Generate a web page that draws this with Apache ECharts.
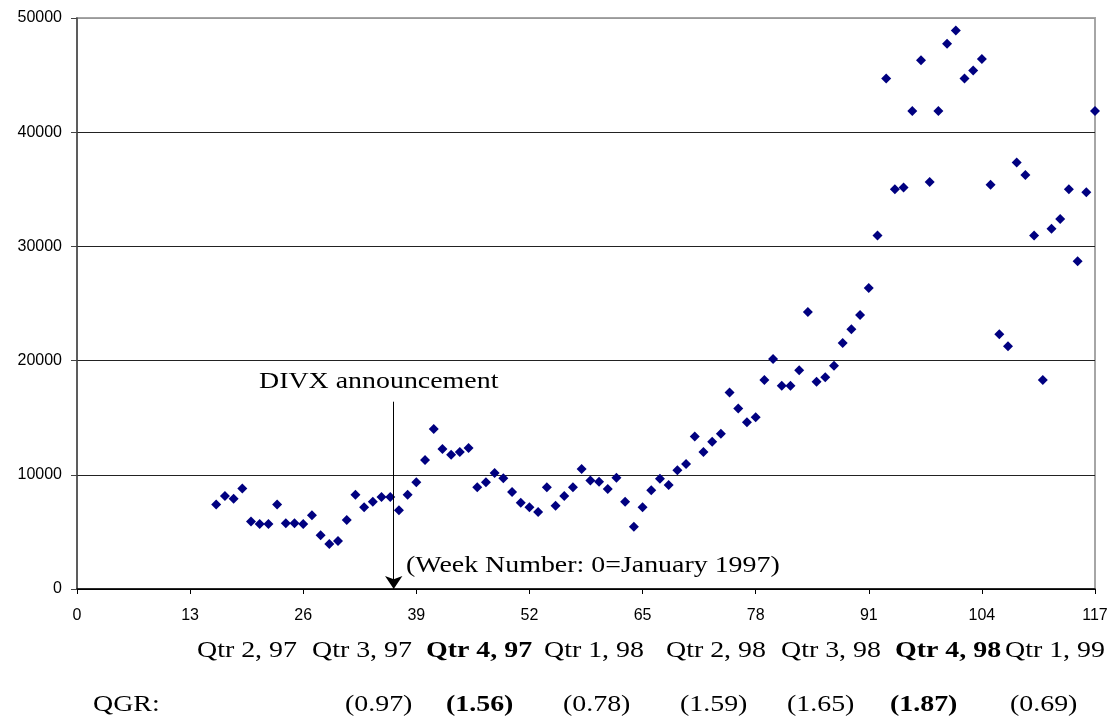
<!DOCTYPE html>
<html>
<head>
<meta charset="utf-8">
<script src="https://cdn.jsdelivr.net/npm/echarts@6/dist/echarts.min.js"></script>
<style>
html,body{margin:0;padding:0;background:#fff;}
#chart{width:1119px;height:722px;}
</style>
</head>
<body>
<div id="chart"></div>
<script>
// Week numbers (0 = January 1997)
const weeks = [16,17,18,19,20,21,22,23,24,25,26,27,28,29,30,31,32,33,34,35,36,37,38,39,40,41,42,43,44,45,46,47,48,49,50,51,52,53,54,55,56,57,58,59,60,61,62,63,64,65,66,67,68,69,70,71,72,73,74,75,76,77,78,79,80,81,82,83,84,85,86,87,88,89,90,91,92,93,94,95,96,97,98,99,100,101,102,103,104,105,106,107,108,109,110,111,112,113,114,115,116,117];
// Weekly values
const sales = [7400,8150,7900,8800,5900,5700,5700,7400,5750,5750,5700,6450,4700,3950,4200,6050,8250,7150,7650,8050,8050,6900,8250,9350,11300,14000,12250,11750,12000,12350,8900,9350,10150,9700,8500,7550,7150,6750,8900,7300,8150,8900,10500,9500,9400,8750,9750,7650,5450,7150,8650,9650,9100,10400,10950,13350,12000,12900,13600,17200,15800,14600,15050,18300,20150,17800,17800,19150,24250,18150,18550,19550,21550,22750,24000,26350,30950,44700,35000,35150,41850,46300,35650,41850,47750,48900,44700,45400,46400,35400,22300,21250,37350,36250,30950,18300,31550,32400,35000,28700,34750,41850];
const quarterLabels = ['Qtr 2, 97','Qtr 3, 97','Qtr 4, 97','Qtr 1, 98','Qtr 2, 98','Qtr 3, 98','Qtr 4, 98','Qtr 1, 99'];
const quarterBold = [false,false,true,false,false,false,true,false];
const qgrLabels = ['(0.97)','(1.56)','(0.78)','(1.59)','(1.65)','(1.87)','(0.69)'];
const qgrBold = [false,true,false,false,false,true,false];
const divxWeek = 36.4;
const divxArrowTop = 16400;

const points = weeks.map((w,i)=>[w, sales[i]]);

// layout (pixels) for the text rows
const quarterX = [197,312,426,544,666,781,895,1005];
const qgrX = [345,446,563,680,787,890,1010];
const SX = 1.24;
const SERIF = '"Liberation Serif","Times New Roman",serif';

function txt(x,y,text,bold){
  return {type:'text', x:x, y:y, scaleX:SX, scaleY:1, silent:true,
    style:{text:text, fontFamily:SERIF, fontSize:22.5, fontWeight:bold?'bold':'normal',
      fill:'#000', align:'left', verticalAlign:'middle'}};
}
const graphics = [];
graphics.push(txt(259,382,'DIVX announcement',false));
graphics.push(txt(406,566,'(Week Number: 0=January 1997)',false));
quarterLabels.forEach((t,i)=>graphics.push(txt(quarterX[i],651,t,quarterBold[i])));
graphics.push(txt(93,705,'QGR:',false));
qgrLabels.forEach((t,i)=>graphics.push(txt(qgrX[i],705,t,qgrBold[i])));

const chart = echarts.init(document.getElementById('chart'), null, {renderer:'canvas'});
chart.setOption({
  animation:false,
  backgroundColor:'#fff',
  grid:{left:77, right:24, top:18, height:571, show:true, borderColor:'#a6a6a6', borderWidth:2, backgroundColor:'transparent'},
  xAxis:{type:'value', min:0, max:117, interval:13,
    axisLine:{show:true, onZero:false, lineStyle:{color:'#000', width:1.5}},
    axisTick:{show:true, inside:false, length:5, lineStyle:{color:'#000'}},
    axisLabel:{color:'#000', fontFamily:'"Liberation Sans",Arial,sans-serif', fontSize:16, margin:19},
    splitLine:{show:false}},
  yAxis:{type:'value', min:0, max:50000, interval:10000,
    axisLine:{show:true, lineStyle:{color:'#444', width:1.5}},
    axisTick:{show:true, inside:false, length:6, lineStyle:{color:'#444'}},
    axisLabel:{color:'#000', fontFamily:'"Liberation Sans",Arial,sans-serif', fontSize:16, margin:15,
      formatter:function(v){return String(v);}},
    splitLine:{show:true, lineStyle:{color:['#000','#222','#222','#222','#222','#999'], width:1}}},
  series:[{
    type:'scatter', data:points, symbol:'diamond', symbolSize:10,
    itemStyle:{color:'#000080', opacity:1},
    markLine:{silent:true, symbol:['none','arrow'], symbolSize:13,
      lineStyle:{color:'#000', width:1, type:'solid'},
      label:{show:false},
      data:[[{coord:[divxWeek, divxArrowTop]},{coord:[divxWeek, 0]}]]}
  }],
  graphic:graphics
});
</script>
</body>
</html>
